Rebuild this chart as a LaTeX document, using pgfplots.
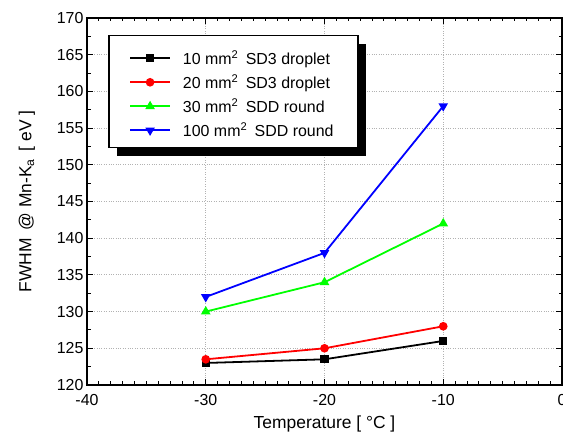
\documentclass[border=0pt]{standalone}
\usepackage{pgfplots}
\pgfplotsset{compat=1.18}
\usepackage{fontspec}
\setmainfont{Liberation Sans}

\begin{document}
\begin{tikzpicture}[x=1bp,y=1bp]
  \begin{axis}[
    at={(0,0)}, anchor=south west,
    scale only axis,
    width=475bp, height=367bp,
    xmin=-40, xmax=0,
    ymin=120, ymax=170,
    xtick={-40,-30,-20,-10,0},
    ytick={120,125,...,170},
    minor x tick num=9,
    minor y tick num=1,
    tick align=inside,
    major tick length=6bp,
    minor tick length=3.5bp,
    every tick/.style={black, line width=0.9pt},
    axis line style={line width=1.4pt},
    grid=major,
    grid style={draw=gray!60, dotted, line width=0.9pt},
    /pgf/number format/assume math mode=true,
    tick label style={font=\fontsize{16}{18}\selectfont},
    xticklabel style={yshift=-6bp},
    label style={font=\fontsize{17.5}{20}\selectfont},
    xlabel={Temperature [ °C ]},
    ylabel={FWHM \,@ Mn-K\textsubscript{a} \,[ eV ]},
    xlabel style={yshift=-3bp},
    ylabel style={yshift=15bp},
    legend cell align=left,
    legend style={at={(0.0884,0.912)}, anchor=north west,
      draw=none, fill=none, inner sep=0pt,
      font=\fontsize{16}{18}\selectfont, row sep=8.5bp,
      nodes={inner xsep=6bp, inner ysep=0pt}},
    legend image code/.code={
      \draw[mark repeat=2,mark phase=2,#1]
        plot coordinates {(0bp,0bp) (20bp,0bp) (40bp,0bp)};},
  ]
    % legend frame with its shadow
    \fill[black] (rel axis cs:0.0632,0.625) rectangle (rel axis cs:0.5874,0.9300);
    \draw[line width=1.2pt, fill=white] (rel axis cs:0.0463,0.6466) rectangle (rel axis cs:0.5705,0.9518);
    \addplot[black, line width=1.8pt, mark=square*, mark size=3.2pt]
      coordinates {(-30,123.0) (-20,123.5) (-10,126.0)};
    \addlegendentry{\hspace{6bp}10 mm\textsuperscript{2}\hspace{3bp} SD3 droplet}
    \addplot[red, line width=1.8pt, mark=*, mark size=3.4pt]
      coordinates {(-30,123.5) (-20,125.0) (-10,128.0)};
    \addlegendentry{\hspace{6bp}20 mm\textsuperscript{2}\hspace{3bp} SD3 droplet}
    \addplot[green, line width=1.8pt, mark=triangle*, mark size=3.8pt]
      coordinates {(-30,130.0) (-20,134.0) (-10,142.0)};
    \addlegendentry{\hspace{6bp}30 mm\textsuperscript{2}\hspace{3bp} SDD round}
    \addplot[blue, line width=1.8pt, mark=triangle*, mark size=3.8pt,
      mark options={rotate=180}]
      coordinates {(-30,132.0) (-20,138.0) (-10,158.0)};
    \addlegendentry{\hspace{6bp}100 mm\textsuperscript{2}\hspace{3bp} SDD round}
  \end{axis}
  \pgfresetboundingbox
  \path[use as bounding box] (-87,-51) rectangle (476,385);
\end{tikzpicture}
\end{document}
